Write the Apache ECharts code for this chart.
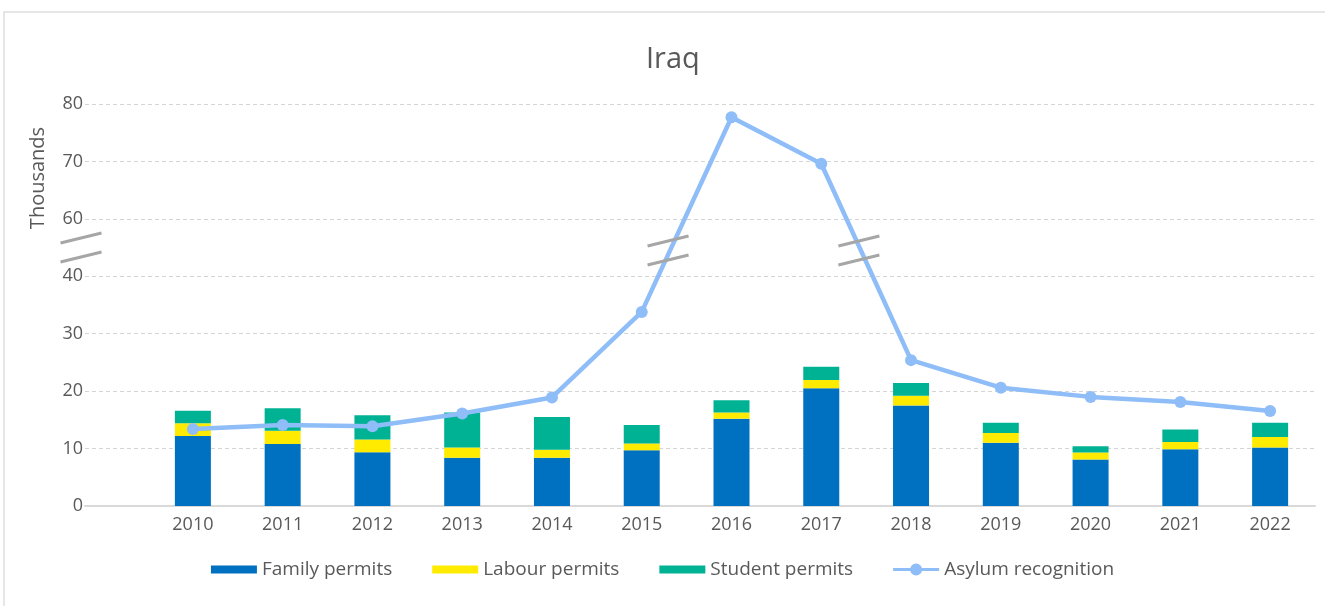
<!DOCTYPE html>
<html>
<head>
<meta charset="utf-8">
<script src="https://cdn.jsdelivr.net/npm/echarts@6/dist/echarts.min.js"></script>
<style>
html,body{margin:0;padding:0;background:#fff;}
#chart{width:1325px;height:606px;}
</style>
</head>
<body>
<div id="chart"></div>
<script>
const years = ['2010','2011','2012','2013','2014','2015','2016','2017','2018','2019','2020','2021','2022'];
const familyPermits = [12.2,10.8,9.35,8.4,8.4,9.7,15.2,20.5,17.5,11.0,8.1,9.9,10.2];
const labourPermits = [2.2,2.3,2.25,1.8,1.4,1.2,1.1,1.45,1.7,1.7,1.2,1.25,1.8];
const studentPermits = [2.2,3.9,4.2,6.1,5.7,3.2,2.1,2.3,2.2,1.8,1.1,2.15,2.5];
const asylumRecognition = [13.4,14.1,13.9,16.1,18.9,33.8,77.7,69.6,25.4,20.6,19.0,18.1,16.55];
const yTickLabels = ['0','10','20','30','40','60','70','80'];

// broken axis: 40..60 compressed into one step of 10
const BREAK_LO = 40, BREAK_SHIFT = 10;
const disp = v => (v <= BREAK_LO ? v : v - BREAK_SHIFT);

const FONT = 'Open Sans';
const TXT = '#595959';
const LINE_C = '#8ebdf8';
const chart = echarts.init(document.getElementById('chart'));

const barIcon = 'path://M0,0 M46,14 M0,3 L46,3 L46,11 L0,11 Z';
const lineIcon = 'path://M0,0 M46,14 M0,5.5 L46,5.5 L46,8.5 L0,8.5 Z M29,7 A6,6 0 1,1 17,7 A6,6 0 1,1 29,7 Z';

const option = {
  animation: false,
  textStyle: {fontFamily: FONT},
  title: {
    text: 'Iraq', left: 641, top: 40,
    textStyle: {fontFamily: FONT, fontSize: 29, fontWeight: 'normal', color: TXT}
  },
  legend: {
    bottom: 22, left: 'center',
    itemWidth: 46, itemHeight: 14, itemGap: 40,
    textStyle: {fontFamily: FONT, fontSize: 19, color: TXT},
    data: [
      {name: 'Family permits', icon: barIcon},
      {name: 'Labour permits', icon: barIcon},
      {name: 'Student permits', icon: barIcon},
      {name: 'Asylum recognition', icon: lineIcon}
    ]
  },
  grid: [
    {left: 85, right: 10, top: 104, bottom: 100},
    {left: 148, right: 10, top: 104, bottom: 100}
  ],
  xAxis: [
    {gridIndex: 0, type: 'value', min: 0, max: 1, axisLabel: {show: false}, axisTick: {show: false},
     splitLine: {show: false}, axisLine: {show: true, lineStyle: {color: '#d9d9d9', width: 2}}},
    {gridIndex: 1, type: 'category', data: years, axisTick: {show: false}, axisLine: {show: false},
     axisLabel: {margin: 10, fontFamily: FONT, fontSize: 18, color: TXT}}
  ],
  yAxis: [
    {gridIndex: 0, type: 'value', min: 0, max: 70, interval: 10,
     axisLine: {show: false}, axisTick: {show: false},
     axisLabel: {margin: 2, fontFamily: FONT, fontSize: 18, color: TXT,
       formatter: v => yTickLabels[Math.round(v / 10)]},
     splitLine: {show: true, lineStyle: {color: '#d4d4d4', type: [4, 3], width: 1}}},
    {gridIndex: 1, type: 'value', min: 0, max: 70, interval: 10, show: false, splitLine: {show: false}}
  ],
  series: [
    {name: 'Family permits', type: 'bar', stack: 'p', xAxisIndex: 1, yAxisIndex: 1, barWidth: 36,
     itemStyle: {color: '#0070c0'}, data: familyPermits},
    {name: 'Labour permits', type: 'bar', stack: 'p', xAxisIndex: 1, yAxisIndex: 1, barWidth: 36,
     itemStyle: {color: '#ffeb00'}, data: labourPermits},
    {name: 'Student permits', type: 'bar', stack: 'p', xAxisIndex: 1, yAxisIndex: 1, barWidth: 36,
     itemStyle: {color: '#00b294'}, data: studentPermits},
    {name: 'Asylum recognition', type: 'line', xAxisIndex: 1, yAxisIndex: 1,
     symbol: 'circle', symbolSize: 12, z: 5,
     lineStyle: {color: LINE_C, width: 4.5}, itemStyle: {color: LINE_C},
     data: asylumRecognition.map(disp)}
  ]
};
chart.setOption(option);

// break marks
function slashes(cx, cy, w) {
  const out = [];
  [-9.5, 9.5].forEach(dy => {
    out.push({type: 'line', z: 100,
      shape: {x1: cx - w / 2, y1: cy + dy + 5, x2: cx + w / 2, y2: cy + dy - 5},
      style: {stroke: '#a6a6a6', lineWidth: 3}});
  });
  return out;
}
const g = [];
const axisX = chart.convertToPixel({xAxisIndex: 0}, 0);
const midY = chart.convertToPixel({yAxisIndex: 0}, BREAK_LO + 5);
g.push(...slashes(axisX - 4, midY, 41));
for (let i = 0; i < asylumRecognition.length - 1; i++) {
  const a = asylumRecognition[i], b = asylumRecognition[i + 1];
  if ((a <= BREAK_LO) !== (b <= BREAK_LO)) {
    const pa = chart.convertToPixel({xAxisIndex: 1, yAxisIndex: 1}, [i, disp(a)]);
    const pb = chart.convertToPixel({xAxisIndex: 1, yAxisIndex: 1}, [i + 1, disp(b)]);
    const yc = chart.convertToPixel({yAxisIndex: 1}, BREAK_LO + 4.5);
    const t = (yc - pa[1]) / (pb[1] - pa[1]);
    const xc = pa[0] + t * (pb[0] - pa[0]);
    g.push(...slashes(xc - 2, yc, 41));
  }
}
// y axis name and frame
g.push({type: 'text', x: 38, y: 178, rotation: Math.PI / 2, z: 50,
  style: {text: 'Thousands', font: '20px "' + FONT + '"', fill: TXT, align: 'center', verticalAlign: 'middle'}});
g.push({type: 'rect', z: -1, shape: {x: 4, y: 12, width: 1340, height: 620},
  style: {fill: 'none', stroke: '#e6e6e6', lineWidth: 2}});
chart.setOption({graphic: g});
</script>
</body>
</html>
